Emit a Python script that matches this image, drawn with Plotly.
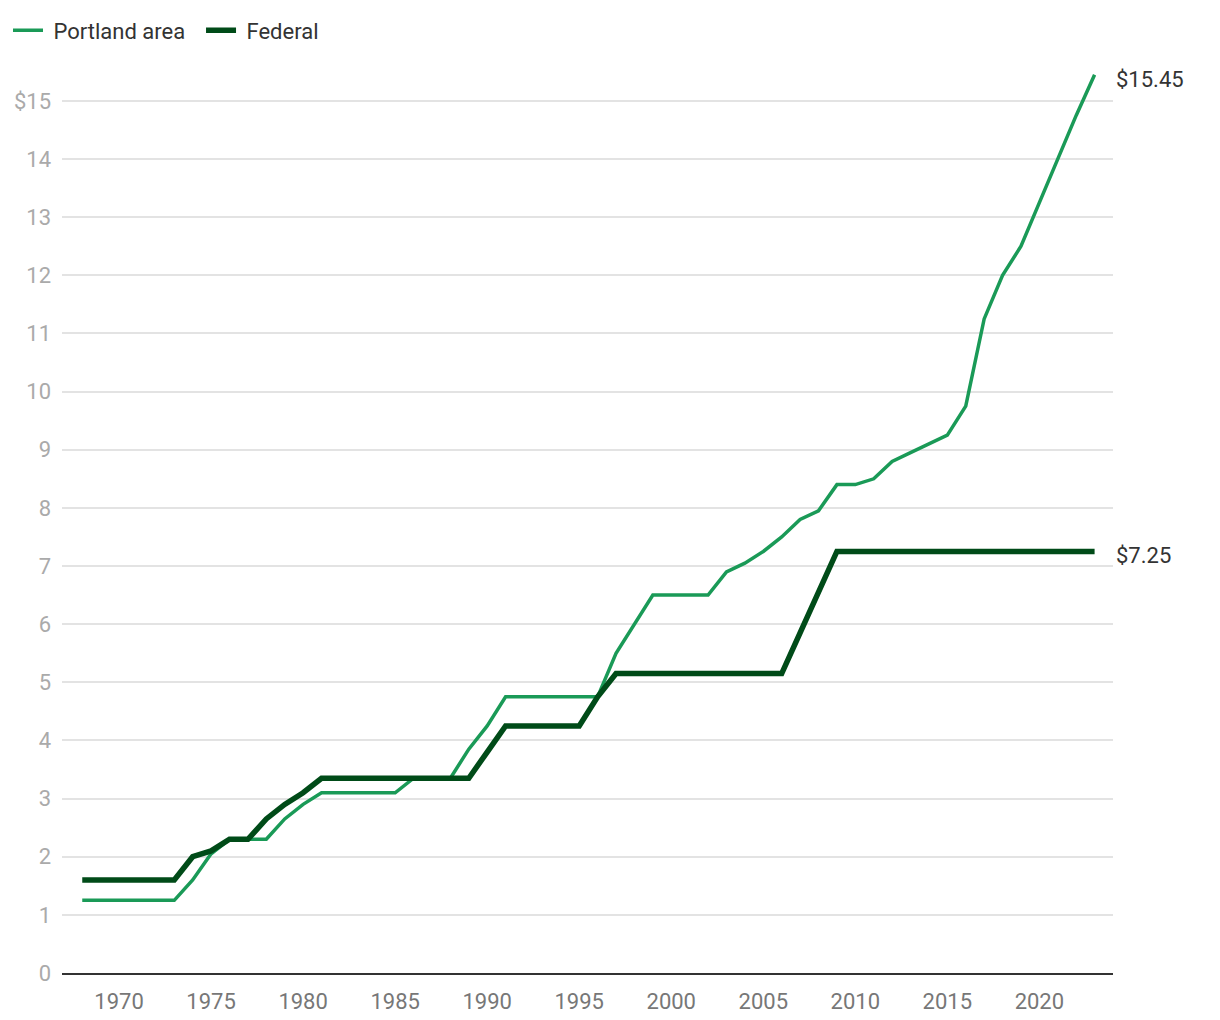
import plotly.graph_objects as go

years = list(range(1968, 2024))

portland = [1.25, 1.25, 1.25, 1.25, 1.25, 1.25,   # 1968-1973
            1.60, 2.05, 2.30, 2.30, 2.30, 2.65, 2.90,  # 1974-1980
            3.10, 3.10, 3.10, 3.10, 3.10,              # 1981-1985
            3.35, 3.35, 3.35, 3.85, 4.25,              # 1986-1990
            4.75, 4.75, 4.75, 4.75, 4.75, 4.75,        # 1991-1996
            5.50, 6.00, 6.50, 6.50, 6.50, 6.50,        # 1997-2002
            6.90, 7.05, 7.25, 7.50, 7.80, 7.95,        # 2003-2008
            8.40, 8.40, 8.50, 8.80, 8.95, 9.10, 9.25,  # 2009-2015
            9.75, 11.25, 12.00, 12.50, 13.25, 14.00, 14.75, 15.45]  # 2016-2023

federal = [1.60, 1.60, 1.60, 1.60, 1.60, 1.60,    # 1968-1973
           2.00, 2.10, 2.30, 2.30, 2.65, 2.90, 3.10,  # 1974-1980
           3.35, 3.35, 3.35, 3.35, 3.35, 3.35, 3.35, 3.35, 3.35,  # 1981-1989
           3.80, 4.25, 4.25, 4.25, 4.25, 4.25,       # 1990-1995
           4.75,                                       # 1996
           5.15, 5.15, 5.15, 5.15, 5.15, 5.15, 5.15, 5.15, 5.15, 5.15,  # 1997-2006
           5.85, 6.55, 7.25,                           # 2007-2009
           7.25, 7.25, 7.25, 7.25, 7.25, 7.25, 7.25, 7.25,  # 2010-2017
           7.25, 7.25, 7.25, 7.25, 7.25, 7.25]         # 2018-2023

x_ticks = [1970, 1975, 1980, 1985, 1990, 1995, 2000, 2005, 2010, 2015, 2020]
y_ticks = list(range(0, 16))
y_ticktext = [str(v) for v in y_ticks[:-1]] + ["$15"]

GREEN = "#1a9a57"
DARK = "#004b18"
FONT = "Roboto, Liberation Sans, sans-serif"
NB = "\u00a0"

fig = go.Figure()
fig.add_trace(go.Scatter(x=years, y=portland, mode="lines",
                         name=NB + "Portland area" + NB + NB,
                         line=dict(color=GREEN, width=3.5)))
fig.add_trace(go.Scatter(x=years, y=federal, mode="lines",
                         name=NB + "Federal",
                         line=dict(color=DARK, width=5.5)))

fig.add_annotation(x=years[-1], y=portland[-1], text="$%.2f" % portland[-1],
                   showarrow=False, xanchor="left", yanchor="middle", xshift=19, yshift=-5,
                   font=dict(size=22, color="#333333", family=FONT))
fig.add_annotation(x=years[-1], y=federal[-1], text="$%.2f" % federal[-1],
                   showarrow=False, xanchor="left", yanchor="middle", xshift=19, yshift=-4,
                   font=dict(size=22, color="#333333", family=FONT))

fig.update_layout(
    width=1220, height=1020,
    margin=dict(l=54, r=115, t=58, b=55),
    paper_bgcolor="white", plot_bgcolor="white",
    font=dict(family=FONT, size=22, color="#333333"),
    showlegend=True,
    legend=dict(orientation="h", x=-0.0514, y=0.978, xanchor="left", yanchor="middle",
                yref="container", font=dict(size=22, color="#333333"),
                itemwidth=30, traceorder="normal"),
    xaxis=dict(range=[1966.9, 2024.0], tickvals=x_ticks, showgrid=False,
               showline=True, linecolor="#333333", linewidth=2,
               ticks="outside", ticklen=8, tickcolor="rgba(0,0,0,0)",
               tickfont=dict(size=22, color="#777777"), zeroline=False,
               automargin=False),
    yaxis=dict(range=[0, 15.6], tickvals=y_ticks, ticktext=y_ticktext,
               showgrid=True, gridcolor="#e3e3e3", gridwidth=2,
               zeroline=False, showline=False, ticks="",
               tickfont=dict(size=22, color="#aaaaaa"), ticklabelstandoff=10,
               automargin=False),
)

fig.write_html("out.html")
